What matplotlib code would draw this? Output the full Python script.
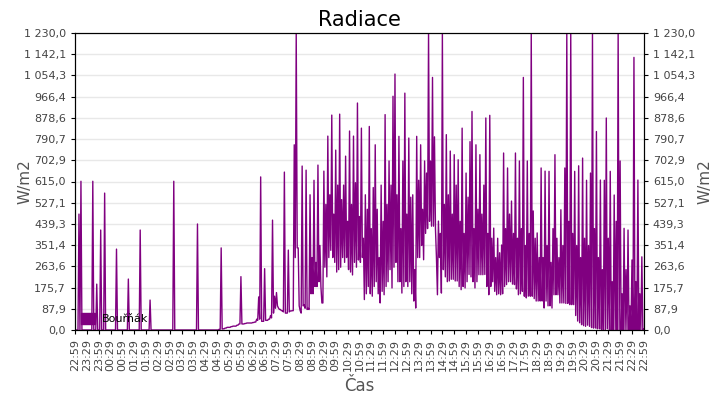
import numpy as np
import matplotlib
matplotlib.use("Agg")
import matplotlib.pyplot as plt
from matplotlib.patches import Patch

# ---------------- data ----------------
# every 5 minutes from 22:59: the upper reading and the lower reading
hi_night = [
    0, 0, 480, 616, 0, 0, 0, 0, 0, 616,
    0, 190, 0, 414, 0, 567, 0, 0, 0, 0,
    0, 335, 0, 0, 0, 0, 0, 211, 0, 0,
    0, 0, 0, 414, 0, 0, 0, 0, 124, 0,
    0, 0, 0, 0, 0, 0, 0, 0, 0, 0,
    616, 0, 0, 0, 0, 0, 0, 0, 0, 0,
    0, 0, 439, 0, 0, 0, 0, 0, 0, 0,
    0, 0, 0, 3, 340, 5, 8, 11, 11, 14,
    16, 16, 20, 25, 221, 25, 27, 29, 29, 29,
    31, 33, 45, 137, 634, 36,
]
lo_night = [0] * 73 + [
    3, 4, 5, 8, 11, 11, 14, 16, 16, 20,
    25, 25, 25, 27, 29, 29, 29, 31, 33, 40,
    45, 36, 36,
]
hi_day = [
    254, 40, 45, 60, 455, 140, 155, 91, 85, 80,
    654, 70, 331, 79, 80, 767, 1230, 340, 80, 679,
    104, 662, 90, 560, 300, 620, 280, 683, 350, 112,
    658, 520, 803, 560, 890, 480, 745, 600, 894, 540,
    600, 720, 450, 824, 520, 803, 610, 940, 470, 836,
    380, 560, 500, 843, 420, 590, 767, 500, 300, 600,
    450, 892, 520, 700, 600, 968, 1060, 560, 802, 420,
    700, 981, 480, 795, 550, 560, 250, 802, 620, 767,
    500, 700, 650, 1230, 700, 1046, 800, 300, 451, 400,
    1230, 520, 809, 560, 741, 480, 726, 600, 705, 450,
    836, 400, 650, 550, 780, 905, 420, 767, 500, 726,
    480, 600, 878, 400, 889, 380, 422, 300, 380, 320,
    352, 733, 420, 671, 480, 534, 400, 733, 380, 700,
    420, 1046, 350, 700, 400, 1230, 493, 380, 402, 300,
    671, 300, 658, 350, 657, 280, 420, 726, 380, 300,
    498, 350, 671, 1230, 450, 1230, 400, 657, 350, 680,
    300, 712, 380, 620, 350, 650, 1230, 420, 822, 300,
    621, 250, 620, 878, 380, 657, 200, 559, 450, 1230,
    700, 150, 421, 250, 414, 100, 290, 1129, 200, 621,
    150, 303, 5,
]
lo_day = [
    40, 40, 45, 50, 70, 90, 100, 85, 80, 75,
    70, 70, 75, 79, 80, 300, 340, 100, 70, 100,
    90, 85, 85, 150, 150, 180, 180, 200, 180, 112,
    260, 220, 300, 330, 300, 280, 240, 250, 260, 300,
    280, 300, 250, 240, 228, 280, 260, 290, 280, 300,
    126, 150, 180, 150, 140, 180, 200, 150, 112, 160,
    146, 180, 200, 250, 174, 260, 280, 200, 200, 153,
    180, 200, 180, 200, 150, 120, 91, 300, 300, 350,
    291, 400, 420, 450, 430, 430, 420, 146, 300, 153,
    250, 220, 200, 203, 210, 210, 203, 203, 180, 167,
    180, 174, 200, 230, 220, 200, 174, 200, 229, 229,
    229, 230, 180, 146, 180, 200, 160, 146, 150, 146,
    150, 180, 188, 200, 200, 190, 188, 170, 146, 150,
    160, 140, 133, 140, 140, 140, 130, 120, 120, 120,
    120, 91, 120, 100, 100, 91, 146, 146, 146, 112,
    112, 112, 110, 110, 105, 105, 105, 60, 37, 30,
    22, 18, 15, 20, 15, 10, 8, 8, 5, 5,
    3, 0, 0, 5, 0, 0, 0, 0, 0, 0,
    0, 0, 0, 0, 0, 0, 0, 0, 0, 0,
    0, 0, 5,
]
hi = np.array(hi_night + hi_day, dtype=float)
lo = np.array(lo_night + lo_day, dtype=float)

step_min = np.arange(len(hi)) * 5
t = np.column_stack([step_min, step_min + 2.5]).ravel()
radiace = np.column_stack([hi, lo]).ravel()

tick_labels = [
    "22:59", "23:29", "23:59", "00:29", "00:59", "01:29", "01:59", "02:29",
    "02:59", "03:29", "03:59", "04:29", "04:59", "05:29", "05:59", "06:29",
    "06:59", "07:29", "07:59", "08:29", "08:59", "09:29", "09:59", "10:29",
    "10:59", "11:29", "11:59", "12:29", "12:59", "13:29", "13:59", "14:29",
    "14:59", "15:29", "15:59", "16:29", "16:59", "17:29", "17:59", "18:29",
    "18:59", "19:29", "19:59", "20:29", "20:59", "21:29", "21:59", "22:29",
    "22:59",
]
y_max = 1230.0

# ---------------- plot ----------------
fig = plt.figure(figsize=(7.2, 4.0), dpi=100)
ax = fig.add_axes([0.1042, 0.175, 0.790, 0.7425])

purple = "#800080"
ax.plot(t, radiace, color=purple, lw=1.0)

ax.set_xlim(0, 1440)
ax.set_ylim(0, y_max)

yt = np.linspace(0, y_max, 15)
def fmt(v):
    s = "{:,.1f}".format(v)
    return s.replace(",", " ").replace(".", ",")
ylabels = [fmt(v) for v in yt]

ax.set_yticks(yt)
ax.set_yticklabels(ylabels)
ax.set_xticks(np.arange(len(tick_labels)) * 30)
ax.set_xticklabels(tick_labels, rotation=90)

ax.grid(axis="y", color="#e8e8e8", lw=1)
ax.set_axisbelow(True)
ax.tick_params(axis="both", direction="out", length=3, labelsize=8,
               labelcolor="#444444", color="black")

ax2 = ax.twinx()
ax2.set_ylim(0, y_max)
ax2.set_yticks(yt)
ax2.set_yticklabels(ylabels)
ax2.tick_params(axis="y", direction="out", length=3, labelsize=8,
                labelcolor="#444444")

ax.set_title("Radiace", fontsize=15, pad=5)
ax.set_ylabel("W/m2", fontsize=11, color="#555555", labelpad=-6)
ax2.set_ylabel("W/m2", fontsize=11, color="#555555", labelpad=2)
ax.set_xlabel("Čas", fontsize=12, color="#555555", labelpad=4)

leg = ax.legend(handles=[Patch(color=purple, label="Bouřňák")],
                loc="lower left", frameon=False, fontsize=8,
                handlelength=1.3, handleheight=1.1, handletextpad=0.6,
                borderaxespad=0.3, borderpad=0.2)

fig.savefig("out.png", dpi=100)
